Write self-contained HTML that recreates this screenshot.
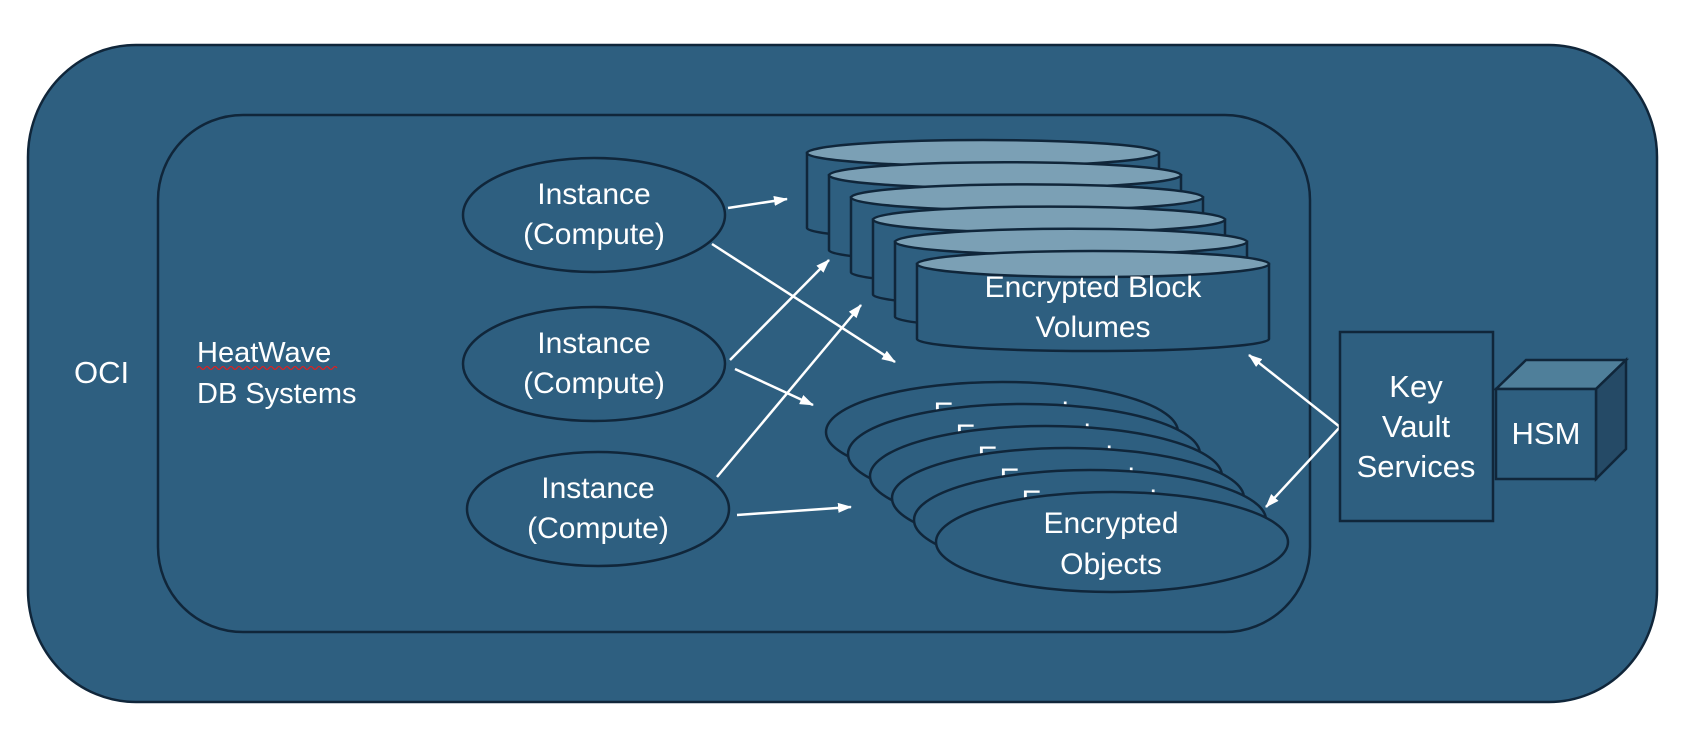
<!DOCTYPE html>
<html><head><meta charset="utf-8"><style>
html,body{margin:0;padding:0;background:#fff;}
svg{display:block;}
text{font-family:"Liberation Sans",sans-serif;fill:#fff;}
</style></head><body>
<svg width="1684" height="748" viewBox="0 0 1684 748" xmlns="http://www.w3.org/2000/svg">
<defs>
<marker id="ah" markerWidth="14" markerHeight="10" refX="13" refY="5" orient="auto" markerUnits="userSpaceOnUse">
<path d="M0,0 L14,5 L0,10 Z" fill="#fff"/>
</marker>
</defs>
<g stroke="#10263a" stroke-width="2.5">
<rect x="28" y="45" width="1629" height="657" rx="108" ry="112" fill="#2e5f80"/>
<rect x="158" y="115" width="1152" height="517" rx="85" ry="85" fill="#2e5f80"/>
</g>
<text x="74" y="383" font-size="31">OCI</text>
<text x="197" y="362" font-size="29">HeatWave</text>
<path d="M197,368 q2,-3 4,0 t4,0 t4,0 t4,0 t4,0 t4,0 t4,0 t4,0 t4,0 t4,0 t4,0 t4,0 t4,0 t4,0 t4,0 t4,0 t4,0 t4,0 t4,0 t4,0 t4,0 t4,0 t4,0 t4,0 t4,0 t4,0 t4,0 t4,0 t4,0 t4,0 t4,0 t4,0 t4,0 t4,0 t4,0" stroke="#e02020" stroke-width="1.2" fill="none"/>
<text x="197" y="403" font-size="29">DB Systems</text>

<g stroke="#10263a" stroke-width="2.5" fill="#2e5f80">
<ellipse cx="594" cy="215" rx="131" ry="57"/>
<ellipse cx="594" cy="364" rx="131" ry="57"/>
<ellipse cx="598" cy="509" rx="131" ry="57"/>
</g>
<g font-size="30" text-anchor="middle">
<text x="594" y="204">Instance</text><text x="594" y="244">(Compute)</text>
<text x="594" y="353">Instance</text><text x="594" y="393">(Compute)</text>
<text x="598" y="498">Instance</text><text x="598" y="538">(Compute)</text>
</g>

<g stroke="#10263a" stroke-width="2.5">
<g><path d="M807,153 L807,228 A176,12 0 0 0 1159,228 L1159,153 Z" fill="#2e5f80"/><ellipse cx="983" cy="153" rx="176" ry="13" fill="#7ba0b5"/></g>
<g transform="translate(22,22.2)"><path d="M807,153 L807,228 A176,12 0 0 0 1159,228 L1159,153 Z" fill="#2e5f80"/><ellipse cx="983" cy="153" rx="176" ry="13" fill="#7ba0b5"/></g>
<g transform="translate(44,44.4)"><path d="M807,153 L807,228 A176,12 0 0 0 1159,228 L1159,153 Z" fill="#2e5f80"/><ellipse cx="983" cy="153" rx="176" ry="13" fill="#7ba0b5"/></g>
<g transform="translate(66,66.6)"><path d="M807,153 L807,228 A176,12 0 0 0 1159,228 L1159,153 Z" fill="#2e5f80"/><ellipse cx="983" cy="153" rx="176" ry="13" fill="#7ba0b5"/></g>
<g transform="translate(88,88.8)"><path d="M807,153 L807,228 A176,12 0 0 0 1159,228 L1159,153 Z" fill="#2e5f80"/><ellipse cx="983" cy="153" rx="176" ry="13" fill="#7ba0b5"/></g>
<g transform="translate(110,111)"><path d="M807,153 L807,228 A176,12 0 0 0 1159,228 L1159,153 Z" fill="#2e5f80"/><ellipse cx="983" cy="153" rx="176" ry="13" fill="#7ba0b5"/></g>
</g>
<text x="1093" y="297" font-size="30" text-anchor="middle">Encrypted Block</text>
<text x="1093" y="337" font-size="30" text-anchor="middle">Volumes</text>

<g font-size="30" text-anchor="middle">
<g><ellipse cx="1002" cy="432" rx="176" ry="50" fill="#2e5f80" stroke="#10263a" stroke-width="2.5"/><text x="1001" y="423">Encrypted</text></g>
<g transform="translate(22,22)"><ellipse cx="1002" cy="432" rx="176" ry="50" fill="#2e5f80" stroke="#10263a" stroke-width="2.5"/><text x="1001" y="423">Encrypted</text></g>
<g transform="translate(44,44)"><ellipse cx="1002" cy="432" rx="176" ry="50" fill="#2e5f80" stroke="#10263a" stroke-width="2.5"/><text x="1001" y="423">Encrypted</text></g>
<g transform="translate(66,66)"><ellipse cx="1002" cy="432" rx="176" ry="50" fill="#2e5f80" stroke="#10263a" stroke-width="2.5"/><text x="1001" y="423">Encrypted</text></g>
<g transform="translate(88,88)"><ellipse cx="1002" cy="432" rx="176" ry="50" fill="#2e5f80" stroke="#10263a" stroke-width="2.5"/><text x="1001" y="423">Encrypted</text></g>
<g transform="translate(110,110)"><ellipse cx="1002" cy="432" rx="176" ry="50" fill="#2e5f80" stroke="#10263a" stroke-width="2.5"/><text x="1001" y="423">Encrypted</text><text x="1001" y="464">Objects</text></g>
</g>

<g stroke="#fff" stroke-width="2.5" fill="none">
<line x1="728" y1="208" x2="787" y2="199" marker-end="url(#ah)"/>
<line x1="712" y1="244" x2="895" y2="362" marker-end="url(#ah)"/>
<line x1="730" y1="360" x2="829" y2="260" marker-end="url(#ah)"/>
<line x1="735" y1="369" x2="813" y2="405" marker-end="url(#ah)"/>
<line x1="717" y1="477" x2="861" y2="305" marker-end="url(#ah)"/>
<line x1="737" y1="515" x2="851" y2="507" marker-end="url(#ah)"/>
<line x1="1340" y1="427" x2="1249" y2="355" marker-end="url(#ah)"/>
<line x1="1340" y1="427" x2="1266" y2="507" marker-end="url(#ah)"/>
</g>

<rect x="1340" y="332" width="153" height="189" fill="#2e5f80" stroke="#10263a" stroke-width="2.5"/>
<g font-size="31" text-anchor="middle">
<text x="1416" y="397">Key</text>
<text x="1416" y="437">Vault</text>
<text x="1416" y="477">Services</text>
</g>
<g stroke="#10263a" stroke-width="2.5">
<path d="M1496,389 L1526,360 L1626,360 L1596,389 Z" fill="#4f7f9a"/>
<path d="M1596,389 L1626,360 L1626,449 L1596,479 Z" fill="#254a66"/>
<rect x="1496" y="389" width="100" height="90" fill="#2e5f80"/>
</g>
<text x="1546" y="444" font-size="31" text-anchor="middle">HSM</text>
</svg>
</body></html>
